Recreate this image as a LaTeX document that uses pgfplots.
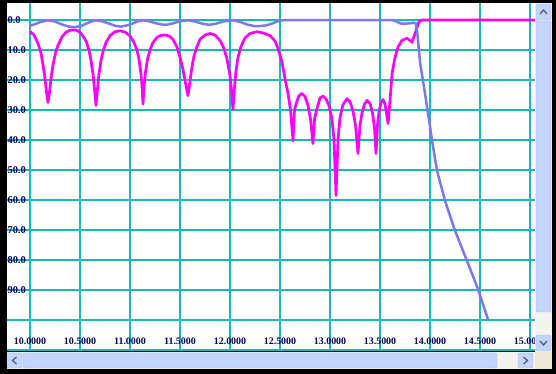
\documentclass[border=0pt]{standalone}
\usepackage{pgfplots}
\pgfplotsset{compat=1.18}
\usepackage{fontspec}
\setmainfont{Liberation Serif}
\definecolor{gridc}{RGB}{24,184,184}
\definecolor{lblc}{RGB}{0,0,102}
\definecolor{magc}{RGB}{255,0,255}
\definecolor{bluc}{RGB}{122,122,238}
\definecolor{sbthumb}{RGB}{196,212,252}
\definecolor{sbedge}{RGB}{160,184,236}
\definecolor{sbtrack}{RGB}{244,244,238}
\definecolor{sbarrow}{RGB}{77,97,133}
\definecolor{sbcorner}{RGB}{236,233,216}
\begin{document}
\begin{tikzpicture}
\path[use as bounding box, fill=black] (0,0) rectangle (556bp,374bp);
\begin{axis}[
  at={(7bp,23bp)}, anchor=south west,
  scale only axis, width=528bp, height=348bp,
  xmin=9.77, xmax=15.05,
  y dir=reverse, ymin=-5.666667, ymax=110.333333,
  axis background/.style={fill=white},
  axis line style={draw=none},
  tick style={draw=none},
  grid=major,
  major grid style={draw=gridc, line width=2bp},
  xtick={10,10.5,11,11.5,12,12.5,13,13.5,14,14.5,15},
  xticklabels={10.0000,10.5000,11.0000,11.5000,12.0000,12.5000,13.0000,13.5000,14.0000,14.5000,15.0000},
  ytick={0,10,20,30,40,50,60,70,80,90,100,110},
  yticklabels={0.0,10.0,20.0,30.0,40.0,50.0,60.0,70.0,80.0,90.0,{},{}},
  ticklabel style={font=\fontsize{10}{12}\selectfont\bfseries, text=lblc},
  xticklabel style={anchor=center, yshift=10bp},
  yticklabel style={anchor=west, xshift=-3bp, font=\fontsize{10.5}{12}\selectfont\bfseries},
]
\addplot[magc, line width=2.7bp, line join=round] coordinates {
(10.00,3.8)(10.04,5.0)(10.08,7.8)(10.11,11.0)(10.13,15.0)(10.15,19.5)(10.165,24)(10.18,27.5)
(10.195,24)(10.21,19.5)(10.23,15.0)(10.255,11.0)(10.28,8.5)(10.32,5.6)(10.36,4.1)(10.40,3.4)(10.44,3.3)
(10.48,3.6)(10.52,4.8)(10.56,7.0)(10.59,10.0)(10.61,13.5)(10.63,18.0)(10.645,23.0)(10.66,28.5)
(10.675,23.0)(10.69,18.0)(10.71,13.5)(10.73,10.5)(10.76,7.5)(10.80,5.2)(10.85,3.9)(10.90,3.6)
(10.95,4.0)(11.00,5.3)(11.04,7.5)(11.07,10.0)(11.09,13.0)(11.11,18.0)(11.12,22.0)(11.13,28.0)
(11.14,22.5)(11.155,17.5)(11.175,13.0)(11.20,10.0)(11.23,7.5)(11.27,5.8)(11.31,5.1)(11.35,5.0)
(11.39,5.3)(11.43,6.5)(11.47,9.0)(11.50,12.5)(11.53,16.5)(11.555,21.0)(11.58,25.2)
(11.60,20.5)(11.62,15.5)(11.64,12.0)(11.67,8.8)(11.70,6.5)(11.75,5.0)(11.80,4.5)
(11.85,5.0)(11.90,6.8)(11.94,9.5)(11.97,13.0)(12.00,18.5)(12.015,23.5)(12.03,29.8)
(12.045,22.5)(12.06,17.0)(12.08,12.5)(12.11,8.8)(12.15,6.0)(12.20,4.5)(12.27,3.9)
(12.34,4.4)(12.40,5.2)(12.45,7.0)(12.48,9.5)(12.52,14.0)(12.55,19.5)(12.58,24.5)(12.605,30)(12.63,40.3)
(12.645,30)(12.665,27.5)(12.69,25.2)(12.72,24.5)(12.75,25.5)(12.78,28.5)(12.805,33)(12.83,41.2)
(12.845,33)(12.87,29.5)(12.90,26.0)(12.93,25.4)(12.96,26.3)(12.99,28.5)(13.02,33)(13.04,40)(13.06,58.5)
(13.08,40)(13.10,32.5)(13.13,28.2)(13.17,26.2)(13.20,27.3)(13.23,30.3)(13.255,35)(13.28,44.5)
(13.30,35)(13.32,31)(13.345,28)(13.37,26.8)(13.40,27.8)(13.425,31)(13.445,36)(13.46,44.5)
(13.475,35)(13.49,30.5)(13.51,27.5)(13.53,26.5)(13.55,28.0)(13.565,31)(13.58,34.5)
(13.60,27)(13.62,18)(13.65,12.5)(13.68,9.0)(13.72,6.8)(13.77,6.1)(13.80,6.8)(13.82,7.4)
(13.84,5.5)(13.87,2.5)(13.89,0.6)(13.92,0)(15.05,0)
};
\addplot[bluc, line width=2.5bp, line join=round] coordinates {
(10.00,1.9)(10.05,1.4)(10.10,0.7)(10.18,0.1)(10.25,0.5)(10.32,1.5)(10.39,2.2)(10.45,2.4)
(10.51,2.0)(10.57,1.1)(10.62,0.4)(10.66,0.1)(10.72,0.4)(10.80,1.3)(10.86,2.0)(10.91,2.2)
(10.97,1.8)(11.03,1.1)(11.08,0.4)(11.13,0.1)(11.19,0.4)(11.26,1.1)(11.32,1.5)(11.36,1.6)
(11.42,1.2)(11.50,0.4)(11.58,0.1)(11.65,0.5)(11.72,1.2)(11.79,1.6)(11.85,1.3)(11.93,0.5)
(12.03,0.1)(12.10,0.6)(12.17,1.5)(12.24,2.0)(12.30,2.0)(12.36,1.8)(12.42,1.2)(12.47,0.5)
(12.52,0.1)(12.55,0)(13.62,0)(13.66,0.4)(13.71,1.2)(13.76,1.2)(13.80,1.1)(13.84,0.9)
(13.86,1.2)(13.875,5)(13.90,14)(13.95,24.5)(14.00,35.5)(14.02,40.1)(14.07,50.2)(14.15,60.2)
(14.25,70.2)(14.37,80.3)(14.48,89.7)(14.58,99.8)
};
\end{axis}
% vertical scrollbar
\fill[sbtrack] (535bp,22bp) rectangle (552bp,371bp);
\draw[sbedge, fill=sbthumb, rounded corners=2bp] (536bp,354bp) rectangle (551bp,370bp);
\draw[sbedge, fill=sbthumb, rounded corners=2bp] (536bp,62bp) rectangle (551bp,353bp);
\draw[sbedge, fill=sbthumb, rounded corners=2bp] (536bp,23bp) rectangle (551bp,39bp);
\draw[sbarrow, line width=1.3bp] (540bp,360bp) -- (543.5bp,364bp) -- (547bp,360bp);
\draw[sbarrow, line width=1.3bp] (540bp,33bp) -- (543.5bp,29bp) -- (547bp,33bp);
% horizontal scrollbar
\fill[sbtrack] (7bp,5bp) rectangle (535bp,22bp);
\draw[sbedge, fill=sbthumb, rounded corners=2bp] (7bp,6bp) rectangle (22bp,21bp);
\draw[sbedge, fill=sbthumb, rounded corners=2bp] (23bp,6bp) rectangle (497bp,21bp);
\draw[sbedge, fill=sbthumb, rounded corners=2bp] (518bp,6bp) rectangle (533bp,21bp);
\draw[sbarrow, line width=1.3bp] (16.5bp,10bp) -- (12.5bp,13.5bp) -- (16.5bp,17bp);
\draw[sbarrow, line width=1.3bp] (523.5bp,10bp) -- (527.5bp,13.5bp) -- (523.5bp,17bp);
\fill[sbcorner] (535bp,5bp) rectangle (552bp,22bp);
\end{tikzpicture}
\end{document}
